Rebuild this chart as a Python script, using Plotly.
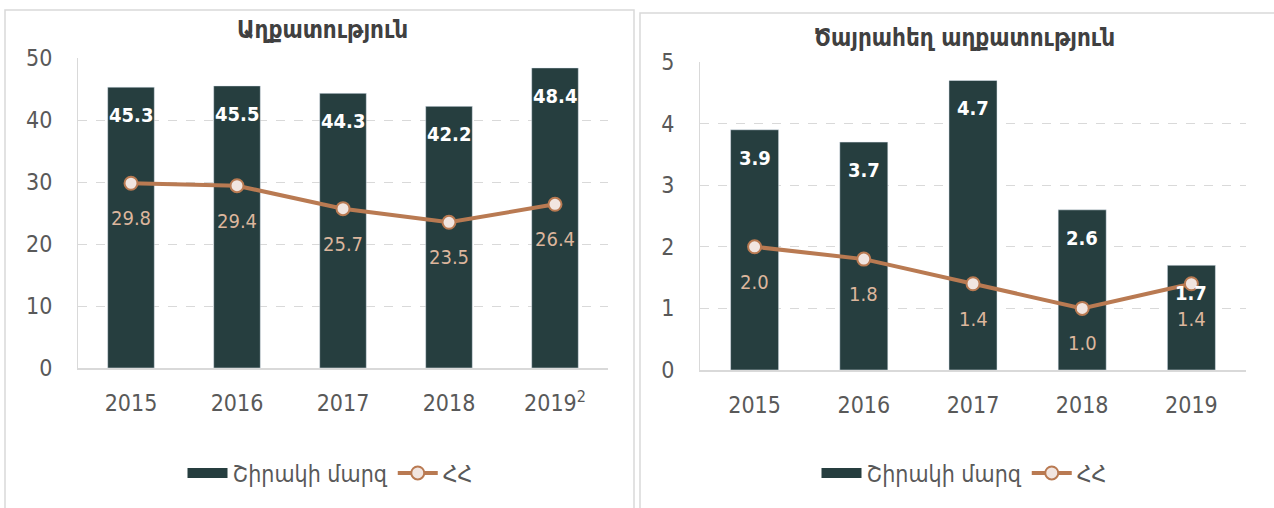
import plotly.graph_objects as go

years = ["2015", "2016", "2017", "2018", "2019"]
left_ticks = ["2015", "2016", "2017", "2018", "2019<sup>2</sup>"]
right_ticks = ["2015", "2016", "2017", "2018", "2019"]

poverty_shirak = [45.3, 45.5, 44.3, 42.2, 48.4]
poverty_ra = [29.8, 29.4, 25.7, 23.5, 26.4]
extreme_shirak = [3.9, 3.7, 4.7, 2.6, 1.7]
extreme_ra = [2.0, 1.8, 1.4, 1.0, 1.4]

title_left = "Աղքատություն"
title_right = "Ծայրահեղ աղքատություն"
name_bar = "Շիրակի մարզ"
name_line = "ՀՀ"

BAR = "#263e3f"
LINE = "#b97a52"
MARK_FILL = "#f1e5e0"
LBL_LINE = "#dcb69d"
TXT = "#595959"
GRID = "#d9d9d9"
FONT = "Liberation Sans Narrow, DejaVu Sans Condensed, Roboto Condensed, DejaVu Sans, sans-serif"
LBL_FONT = "DejaVu Sans Condensed, DejaVu Sans"

W, H = 1274, 508
def px(v): return v / W
def py(v): return 1 - v / H

fig = go.Figure()

panels = [("x", "y", "legend", poverty_shirak, poverty_ra),
          ("x2", "y2", "legend2", extreme_shirak, extreme_ra)]

for xr, yr, lg, bars, lines in panels:
    fig.add_trace(go.Bar(x=years, y=bars, name=name_bar, marker_color=BAR,
                         xaxis=xr, yaxis=yr, legend=lg, showlegend=False))
    # legend proxy for the bar series (wide rectangle swatch)
    fig.add_trace(go.Scatter(x=[None], y=[None], name=name_bar, mode="lines",
                             line=dict(color=BAR, width=14),
                             xaxis=xr, yaxis=yr, legend=lg, hoverinfo="skip"))
    fig.add_trace(go.Scatter(x=years, y=lines, name=name_line, mode="lines+markers",
                             line=dict(color=LINE, width=4),
                             marker=dict(size=13, color=MARK_FILL, line=dict(color=LINE, width=2)),
                             xaxis=xr, yaxis=yr, legend=lg))

annotations = []
for xr, yr, lg, bars, lines in panels:
    for i, bv in enumerate(bars):
        annotations.append(dict(x=i, y=bv, xref=xr, yref=yr, text=f"{bv:.1f}",
                                showarrow=False, yshift=-28,
                                font=dict(family=LBL_FONT, size=20, color="white", weight="bold")))
    for i, lv in enumerate(lines):
        annotations.append(dict(x=i, y=lv, xref=xr, yref=yr, text=f"{lv:.1f}",
                                showarrow=False, yshift=-35,
                                font=dict(family=LBL_FONT, size=20, color=LBL_LINE)))

annotations.append(dict(x=px(322), y=py(30), xref="paper", yref="paper", text=f"<b>{title_left}</b>",
                        xanchor="center", yanchor="middle",
                        showarrow=False, font=dict(family=FONT, size=24, color="#404040")))
annotations.append(dict(x=px(964), y=py(38), xref="paper", yref="paper", text=f"<b>{title_right}</b>",
                        xanchor="center", yanchor="middle",
                        showarrow=False, font=dict(family=FONT, size=24, color="#404040")))

shapes = [
    dict(type="rect", xref="paper", yref="paper", x0=px(5), x1=px(634), y0=-0.02, y1=py(10),
         line=dict(color="#d9d9d9", width=1.5), layer="below"),
    dict(type="rect", xref="paper", yref="paper", x0=px(640), x1=1.02, y0=-0.02, y1=py(13),
         line=dict(color="#d9d9d9", width=1.5), layer="below"),
]

axis_common = dict(type="category", range=[-0.5, 4.5], showgrid=False, showline=True, linecolor=GRID,
                   linewidth=1.5, automargin=False, ticklabelstandoff=14,
                   ticks="", tickangle=0, tickfont=dict(family=FONT, size=23, color=TXT), fixedrange=True)
yaxis_common = dict(showgrid=True, gridcolor=GRID, griddash="dash", gridwidth=1, automargin=False,
                    showline=True, linecolor=GRID, linewidth=1, zeroline=False, ticklabelstandoff=20,
                    ticks="", tickfont=dict(family=FONT, size=23, color=TXT), fixedrange=True)

legend_common = dict(orientation="h", xanchor="center", y=py(473), yanchor="middle",
                     font=dict(family=FONT, size=23, color=TXT), itemwidth=40,
                     bgcolor="rgba(0,0,0,0)", tracegroupgap=0)

fig.update_layout(
    width=W, height=H, margin=dict(l=0, r=0, t=0, b=0, autoexpand=False),
    paper_bgcolor="white", plot_bgcolor="white",
    barmode="group", bargap=0.56,
    font=dict(family=FONT, color=TXT),
    xaxis=dict(domain=[px(78), px(608)], anchor="y", tickmode="array", tickvals=years,
               ticktext=left_ticks, categoryorder="array", categoryarray=years, **axis_common),
    yaxis=dict(domain=[py(368), py(58)], anchor="x", range=[0, 50], dtick=10, **yaxis_common),
    xaxis2=dict(domain=[px(700), px(1246)], anchor="y2", tickmode="array", tickvals=years,
                ticktext=right_ticks, categoryorder="array", categoryarray=years, **axis_common),
    yaxis2=dict(domain=[py(370), py(62)], anchor="x2", range=[0, 5], dtick=1, **yaxis_common),
    legend=dict(x=px(330), **legend_common),
    legend2=dict(x=px(964), **legend_common),
    annotations=annotations,
    shapes=shapes,
    showlegend=True,
)

fig.write_html("out.html", config={"displayModeBar": False},
               post_script="document.body.style.margin='0';document.body.style.overflow='hidden';")
